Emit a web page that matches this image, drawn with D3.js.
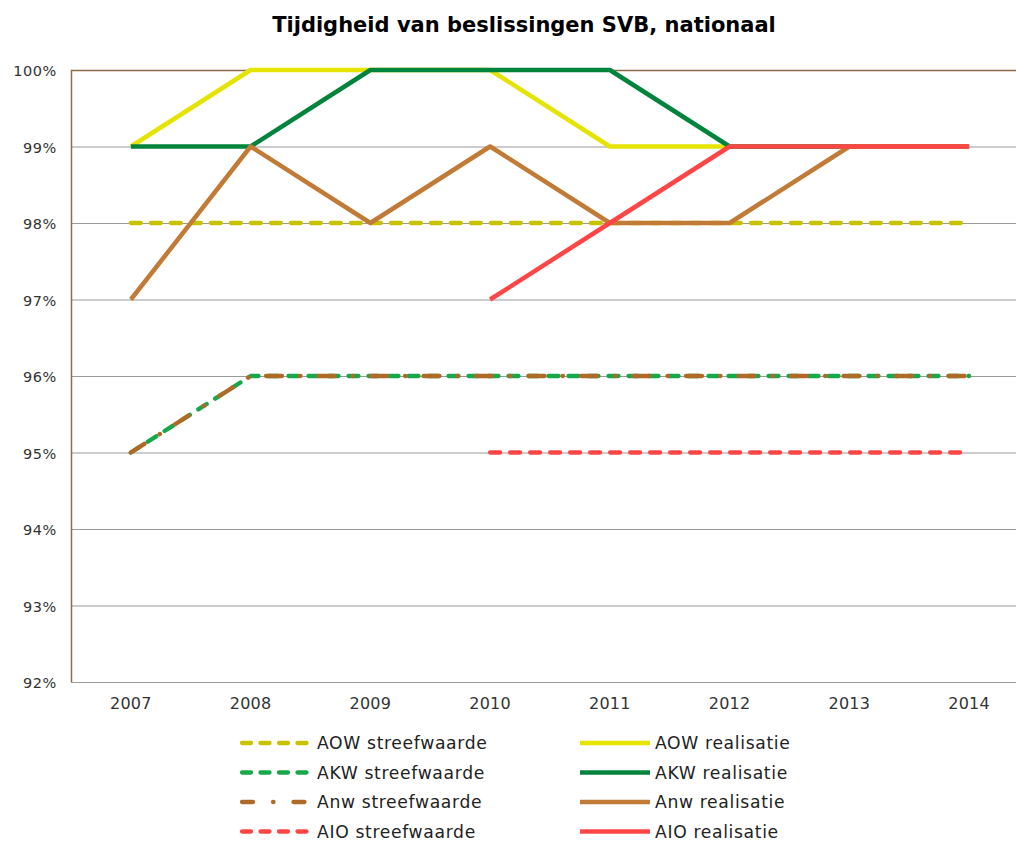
<!DOCTYPE html>
<html>
<head>
<meta charset="utf-8">
<title>Tijdigheid van beslissingen SVB</title>
<script src="https://cdn.jsdelivr.net/npm/d3@7"></script>
<style>
  body { margin: 0; background: #fff; }
  svg { display: block; font-family: "DejaVu Sans", Verdana, sans-serif; }
</style>
</head>
<body>
<div id="chart"></div>
<script>
// data
var years = ["2007", "2008", "2009", "2010", "2011", "2012", "2013", "2014"];
var yTicks = [92, 93, 94, 95, 96, 97, 98, 99, 100];

var aowStreef = [98, 98, 98, 98, 98, 98, 98, 98];
var aowReal   = [99, 100, 100, 100, 99, 99, 99, 99];
var akwStreef = [95, 96, 96, 96, 96, 96, 96, 96];
var akwReal   = [99, 99, 100, 100, 100, 99, 99, 99];
var anwStreef = [95, 96, 96, 96, 96, 96, 96, 96];
var anwReal   = [97, 99, 98, 99, 98, 98, 99, 99];
var aioStreef = [null, null, null, 95, 95, 95, 95, 95];
var aioReal   = [null, null, null, 97, 98, 99, 99, 99];

var series = [
  { name: "AOW streefwaarde", values: aowStreef, color: "#c8c200", dash: "10,10" },
  { name: "AOW realisatie",   values: aowReal,   color: "#e4e400", dash: null },
  { name: "AKW streefwaarde", values: akwStreef, color: "#16a84a", dash: "10,10" },
  { name: "AKW realisatie",   values: akwReal,   color: "#00843c", dash: null },
  { name: "Anw streefwaarde", values: anwStreef, color: "#b06a28", dash: "16,18,0.5,18" },
  { name: "Anw realisatie",   values: anwReal,   color: "#c27b36", dash: null },
  { name: "AIO streefwaarde", values: aioStreef, color: "#ff4646", dash: "10,10" },
  { name: "AIO realisatie",   values: aioReal,   color: "#ff4646", dash: null }
];

var W = 1016, H = 841;
var pLeft = 71, pRight = 1029, pTop = 70, pBottom = 682;

var svg = d3.select("#chart").append("svg")
  .attr("width", W).attr("height", H);

svg.append("text")
  .attr("x", 524).attr("y", 32)
  .attr("text-anchor", "middle")
  .attr("font-size", 21).attr("font-weight", "bold")
  .attr("fill", "#000")
  .text("Tijdigheid van beslissingen SVB, nationaal");

var x = d3.scalePoint().domain(years).range([pLeft, pRight]).padding(0.5);
var y = d3.scaleLinear().domain([92, 100]).range([pBottom, pTop]);

// gridlines
svg.append("g").selectAll("line")
  .data(yTicks.filter(function (d) { return d < 100; }))
  .enter().append("line")
  .attr("x1", pLeft).attr("x2", pRight)
  .attr("y1", function (d) { return y(d) + 0.5; })
  .attr("y2", function (d) { return y(d) + 0.5; })
  .attr("stroke", "#9a9a9a").attr("stroke-width", 1.2);

// top border and left axis
svg.append("line")
  .attr("x1", pLeft).attr("x2", pRight)
  .attr("y1", y(100) + 0.5).attr("y2", y(100) + 0.5)
  .attr("stroke", "#8c6a48").attr("stroke-width", 1.5);
svg.append("line")
  .attr("x1", pLeft + 0.5).attr("x2", pLeft + 0.5)
  .attr("y1", y(100)).attr("y2", y(92))
  .attr("stroke", "#8c6a48").attr("stroke-width", 1.5);

// y labels
svg.append("g").selectAll("text")
  .data(yTicks).enter().append("text")
  .attr("x", 57)
  .attr("y", function (d) { return y(d) + 6; })
  .attr("text-anchor", "end")
  .attr("font-size", 14.5).attr("letter-spacing", 0.6).attr("fill", "#333")
  .text(function (d) { return d + "%"; });

// x labels
svg.append("g").selectAll("text")
  .data(years).enter().append("text")
  .attr("x", function (d) { return x(d); })
  .attr("y", 709)
  .attr("text-anchor", "middle")
  .attr("font-size", 16).attr("letter-spacing", 0.3).attr("fill", "#333")
  .text(function (d) { return d; });

var line = d3.line()
  .defined(function (d) { return d.v != null; })
  .x(function (d) { return x(d.year); })
  .y(function (d) { return y(d.v); });

series.forEach(function (s) {
  var pts = years.map(function (yr, i) { return { year: yr, v: s.values[i] }; });
  svg.append("path")
    .datum(pts)
    .attr("d", line)
    .attr("fill", "none")
    .attr("stroke", s.color)
    .attr("stroke-width", s.dash ? 4.3 : 4.5)
    .attr("stroke-linejoin", "round")
    .attr("stroke-linecap", s.dash ? "round" : "butt")
    .attr("stroke-dasharray", s.dash);
});

// legend: two columns, four rows
var leg = svg.append("g");
series.forEach(function (s, i) {
  var col = i % 2, row = Math.floor(i / 2);
  var lx = col === 0 ? 240 : 578;
  var ly = 743 + row * 29.5;
  var dash = s.dash ? (s.dash === "16,18,0.5,18" ? "11,20,0.5,20" : "9,9.5") : null;
  leg.append("line")
    .attr("x1", lx + 2).attr("x2", lx + 72)
    .attr("y1", ly).attr("y2", ly)
    .attr("stroke", s.color).attr("stroke-width", 4.3)
    .attr("stroke-linecap", s.dash ? "round" : "butt")
    .attr("stroke-dasharray", dash);
  leg.append("text")
    .attr("x", lx + 77).attr("y", ly + 6)
    .attr("font-size", 17.2).attr("letter-spacing", 0.65).attr("fill", "#222")
    .text(s.name);
});
</script>
</body>
</html>
